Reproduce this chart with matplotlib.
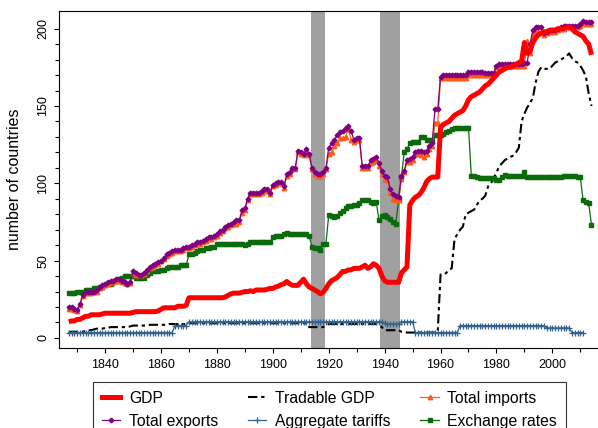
import matplotlib
matplotlib.use("Agg")
import matplotlib.pyplot as plt
import numpy as np
from matplotlib.lines import Line2D

plt.rcParams['font.family'] = ['Liberation Sans', 'DejaVu Sans']

nan = np.nan

# one value per year, 1827 .. 2014
years = np.arange(1827, 2015)

gdp = [
    10.5, 11, 11,
    12, 12, 13, 14, 14, 15, 15, 15, 15, 15.5,
    16, 16, 16, 16, 16, 16, 16, 16, 16, 16,
    16.5, 17, 17, 17, 17, 17, 17, 17, 17, 17.5,
    18.5, 19.5, 19.5, 19.5, 19.5, 19.5, 20.5, 20.5, 20.5, 21,
    26, 26, 26, 26, 26, 26, 26, 26, 26, 26,
    26, 26, 26, 26.5, 27.5, 28.5, 29, 29, 29, 29.5,
    30, 30, 30.5, 30, 31, 31, 31, 31, 31.5, 32,
    32, 33, 33.5, 34.5, 35, 36.5, 35, 34, 34, 34,
    36, 38, 35, 33, 32, 31, 30, 28.5, 29.5, 32,
    35, 37, 38, 39, 41, 43, 43, 44, 44, 45,
    45, 45, 46, 47, 45, 46, 48, 47, 45, 40,
    37, 36, 36, 36, 36, 36, 42, 44, 46, 86,
    89, 91, 92, 94, 97, 101, 103, 104, 104, 104,
    136, 138, 139, 140, 142, 144, 145, 146, 147, 150,
    154, 156, 157, 158, 159, 161, 163, 164, 166, 168,
    170, 172, 173, 174, 175, 175, 176, 177, 178, 179,
    191, 184, 185, 191, 194, 196, 197, 198, 198, 199,
    199, 199, 200, 200, 200, 201, 201, 200, 198, 197,
    196, 195, 192, 190, 183,
]

tradable_gdp = [
    4, 4, 4,
    4, 4, 4, 4.5, 5, 5, 5.5, 6, 6, 6,
    6.5, 6.5, 7, 7, 7, 7, 7, 7, 7, 7.5,
    8, 8, 8, 8, 8, 8, 8.5, 8.5, 8.5, 8.5,
    8.5, 8.5, 8.5, 9, 9, 9, 9, 9, 9, 9,
    9.5, 9.5, 9.5, 9.5, 9.5, 9.5, 9.5, 9.5, 9.5, 9.5,
    9.5, 9.5, 9.5, 9.5, 9.5, 9.5, 9.5, 9.5, 9.5, 9.5,
    9.5, 9.5, 9.5, 9.5, 9.5, 9.5, 9.5, 9.5, 9.5, 9.5,
    9.5, 9.5, 9.5, 9.5, 9.5, 9.5, 9.5, 9.5, 9.5, 9.5,
    9.5, 9.5, 9.5, 7, 7, 7, 7, 7, 7, 8,
    9, 9, 9, 9, 9, 9, 9, 9, 9, 9,
    9, 9, 9, 9, 9, 9, 9, 9, 8, 7,
    5, 5, 5, 5, 5, 5, 4, 4, 3.5, 3.5,
    3.5, 3.5, 3.5, 3.5, 3.5, 3.5, 3.5, 3.5, 3.5, 4,
    41, 41, 42, 44, 45, 64, 67, 70, 72, 80,
    81, 82, 83, 86, 89, 90, 92, 98, 100, 103,
    107, 111, 113, 115, 116, 117, 118, 120, 123, 140,
    145, 149, 152, 155, 165, 172, 175, 174, 174, 174,
    176, 178, 179, 180, 181, 182, 184, 181, 179, 178,
    176, 173, 169, 158, 150,
]

total_imports = [
    19, 19, 18,
    17.5, 21, 27, 29, 29, 29, 29.5, 30, 32, 33,
    34, 35, 36, 36, 37, 37, 36, 35.5, 35, 35.5,
    42, 41, 40.5, 40.5, 41.5, 43, 45, 46, 47, 48,
    49.5, 51, 53, 54.5, 55, 56, 56, 56, 57, 58,
    58, 59, 60, 61, 61, 62, 63, 64, 64, 65,
    66, 68, 69, 71, 72, 73, 74, 74, 75, 81,
    83, 89, 93, 93, 93, 93, 94, 95, 95, 93,
    98, 99, 100, 100, 97, 105, 106, 109, 109, 120,
    119, 118, 121, 118, 109, 106, 105, 105, 106, 109,
    119, 120, 124, 126, 129, 129, 130, 135, 128, 127,
    128, 128, 110, 110, 110, 113, 114, 115, 111, 106,
    103, 102, 94, 90, 89, 89, 103, 107, 114, 114,
    115, 119, 119, 118, 117, 119, 122, 124, 139, 139,
    168, 168, 168, 168, 168, 168, 168, 168, 168, 168,
    170, 170, 170, 170, 170, 170, 170, 170, 170, 170,
    175, 175, 176, 176, 176, 176, 176, 176, 176, 176,
    176, 192, 184, 196, 198, 198, 198, 196, 197, 198,
    198, 198, 199, 200, 200, 201, 201, 201, 201, 201,
    202, 203, 203, 203, 203,
]

total_exports = [
    20, 20, 19,
    18, 22, 28, 30, 30, 30, 30, 31, 33, 34,
    35, 36, 37, 37, 38, 38, 37, 36, 35, 36,
    43, 42, 41, 41, 42, 44, 46, 47, 48, 49,
    50, 52, 54, 55, 56, 57, 57, 57, 58, 59,
    59, 60, 61, 62, 62, 63, 64, 65, 65, 66,
    67, 69, 70, 72, 73, 74, 75, 76, 76, 83,
    84, 90, 94, 94, 94, 94, 95, 96, 96, 94,
    99, 100, 101, 101, 98, 106, 107, 110, 110, 121,
    120, 119, 122, 119, 110, 107, 106, 106, 107, 110,
    123, 126, 128, 131, 133, 134, 136, 137, 134, 128,
    129, 129, 111, 111, 111, 115, 116, 117, 113, 108,
    105, 104, 96, 93, 92, 91, 105, 108, 115, 116,
    117, 120, 121, 121, 120, 121, 124, 126, 148, 148,
    169, 170, 170, 170, 170, 170, 170, 170, 170, 170,
    172, 172, 172, 172, 172, 172, 171, 171, 171, 171,
    176, 177, 177, 177, 177, 177, 177, 177, 177, 177,
    178, 178, 190, 199, 201, 201, 201, 197, 198, 199,
    199, 199, 200, 201, 202, 202, 202, 202, 202, 202,
    203, 205, 204, 204, 204,
]

aggregate_tariffs = [
    3.5, 3.5, 3.5,
    3.5, 3.5, 3.5, 3.5, 3.5, 3.5, 3.5, 3.5, 3.5, 3.5,
    3.5, 3.5, 3.5, 3.5, 3.5, 3.5, 3.5, 3.5, 3.5, 3.5,
    3.5, 3.5, 3.5, 3.5, 3.5, 3.5, 3.5, 3.5, 3.5, 3.5,
    3.5, 3.5, 3.5, 3.5, 3.5, 8, 8, 8, 8, 8,
    10.5, 10.5, 10.5, 10.5, 10.5, 10.5, 10.5, 10.5, 10.5, 10.5,
    10.5, 10.5, 10.5, 10.5, 10.5, 10.5, 10.5, 10.5, 10.5, 10.5,
    10.5, 10.5, 10.5, 10.5, 10.5, 10.5, 10.5, 10.5, 10.5, 10.5,
    10.5, 10.5, 10.5, 10.5, 10.5, 10.5, 10.5, 10.5, 10.5, 10.5,
    10.5, 10.5, 10.5, 10.5, 10.5, 10.5, 10.5, 10.5, 10.5, 10.5,
    10.5, 10.5, 10.5, 10.5, 10.5, 10.5, 10.5, 10.5, 10.5, 10.5,
    10.5, 10.5, 10.5, 10.5, 10.5, 10.5, 10.5, 10.5, 10.5, 10.5,
    9.5, 9, 9, 9, 9, 9, 10.5, 10.5, 10.5, 10.5,
    10.5, 3.5, 3.5, 3.5, 3.5, 3.5, 3.5, 3.5, 3.5, 3.5,
    3.5, 3.5, 3.5, 3.5, 3.5, 3.5, 3.5, 8, 8, 8,
    8, 8, 8, 8, 8, 8, 8, 8, 8, 8,
    8, 8, 8, 8, 8, 8, 8, 8, 8, 8,
    8, 8, 8, 8, 8, 8, 8, 8, 6.5, 6.5,
    6.5, 6.5, 6.5, 6.5, 6.5, 6.5, 6.5, 3.5, 3.5, 3.5,
    3.5, 3.5, nan, nan, nan,
]

exchange_rates = [
    29, 29, 29,
    29.5, 30, 30, 31, 31, 31, 32, 32, 33, 33,
    34, 35, 35, 36, 37, 38, 39, 40, 40, 40,
    40, 39, 39, 39, 39, 41, 42, 43, 43, 43,
    44, 44, 45, 46, 46, 46, 46, 47, 47, 47,
    54, 54, 55, 56, 57, 57, 58, 58, 59, 59,
    61, 61, 61, 61, 61, 61, 61, 61, 61, 61,
    60, 61, 62, 62, 62, 62, 62, 62, 62, 62,
    65.5, 66, 66, 66, 67.5, 68, 67, 67, 67, 67,
    67, 67, 67, 66, 59, 58, 58, 57, 61, 61,
    79.5, 79, 78.5, 79, 81, 82, 84, 85, 85, 86,
    86, 87, 89, 89, 89, 88, 87, 88, 76, 79,
    79.5, 78, 77, 75, 74, 89, 104, 120, 122, 126,
    127, 127, 127, 130, 130, 128, 128, 128, 131, 131,
    131, 132, 133, 134, 135, 135.5, 136, 136, 136, 136,
    136, 105, 104.5, 104, 103.5, 103.5, 103.5, 103.5, 103.5, 103.5,
    102, 102, 104, 105.5, 105, 105, 105, 105, 105, 105,
    107.5, 104, 104, 104, 104, 104, 104, 104, 104, 104,
    104, 104, 104, 104, 105, 105, 105, 105, 105, 104,
    104, 89, 88, 87, 73,
]

war_periods = [(1913.5, 1918.5), (1938.5, 1945.5)]

DASH = (0, (4.5, 1.8, 1.6, 1.8))

fig = plt.figure(figsize=(5.98, 4.28), dpi=100)
W, H = 598.0, 428.0
ax = fig.add_axes([58.7 / W, 80 / H, (601 - 58.7) / W, (348 - 10.7) / H])

for a, b in war_periods:
    ax.axvspan(a, b, color='#a0a0a0', lw=0, zorder=1)

ax.plot(years, tradable_gdp, color='black', lw=1.5, ls=DASH, zorder=3)
ax.plot(years, aggregate_tariffs, color='#33628f', lw=0.9, marker='+', ms=5, mew=0.9, zorder=4)
ax.plot(years, exchange_rates, color='#0b6b0b', lw=0.9, marker='s', ms=2.6, zorder=4)
ax.plot(years, total_imports, color='#ff5a1a', lw=0.9, marker='^', ms=3.2, zorder=5)
ax.plot(years, total_exports, color='#800080', lw=0.9, marker='D', ms=2.4, zorder=5)
ax.plot(years, gdp, color='#ff0000', lw=3.6, zorder=6, solid_capstyle='butt')

ax.set_xlim(1823.4, 2017.4)
ax.set_ylim(-6.5, 211.6)
ax.set_xticks(np.arange(1840, 2001, 20))
ax.set_xticks(np.arange(1830, 2011, 10), minor=True)
ax.set_yticks(np.arange(0, 201, 50))
ax.set_yticks(np.arange(0, 201, 10), minor=True)
ax.tick_params(which='major', length=3.6, width=0.8, labelsize=9)
ax.tick_params(which='minor', length=3.0, width=0.8)
ax.tick_params(axis='x', pad=4)
ax.tick_params(axis='y', pad=3)
plt.setp(ax.get_yticklabels(), rotation=90, va='center')
ax.spines['right'].set_visible(False)
for s in ['left', 'bottom', 'top']:
    ax.spines[s].set_linewidth(0.8)
ax.set_ylabel('number of countries', fontsize=11.5, labelpad=11)

handles = [
    Line2D([], [], color='#ff0000', lw=3.6),
    Line2D([], [], color='#800080', lw=0.9, marker='D', ms=2.4),
    Line2D([], [], color='black', lw=1.5, ls=DASH),
    Line2D([], [], color='#33628f', lw=0.9, marker='+', ms=5, mew=0.9),
    Line2D([], [], color='#ff5a1a', lw=0.9, marker='^', ms=3.2),
    Line2D([], [], color='#0b6b0b', lw=0.9, marker='s', ms=2.6),
]
labels = ['GDP', 'Total exports', 'Tradable GDP', 'Aggregate tariffs',
          'Total imports', 'Exchange rates']
leg = fig.legend(handles, labels, ncol=3, loc='upper left',
                 bbox_to_anchor=(93 / W, 1 - 382 / H), borderaxespad=0,
                 fontsize=11.3, frameon=True, fancybox=False, edgecolor='black',
                 handlelength=1.18, handletextpad=0.55, columnspacing=1.9,
                 borderpad=0.55, labelspacing=0.52)
leg.get_frame().set_linewidth(0.8)

fig.savefig('out.png', dpi=100, facecolor='white')
